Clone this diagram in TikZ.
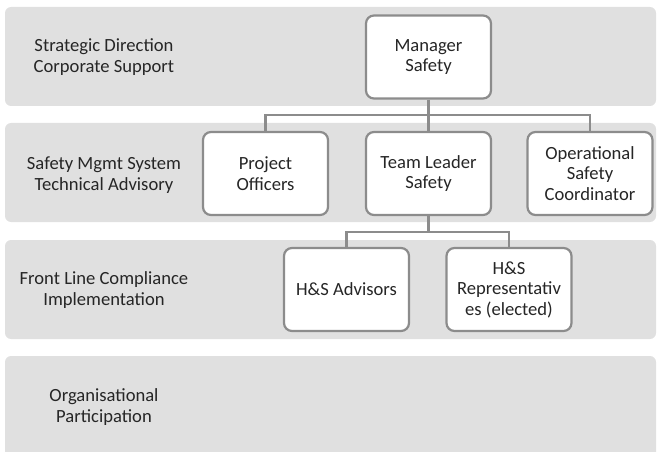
\documentclass[tikz,border=0pt]{standalone}
\usepackage{fontspec}
\setmainfont{Carlito}
\begin{document}
\begin{tikzpicture}[x=1pt,y=-1pt,
  band/.style={fill=bandgrey, draw=none, rounded corners=6pt},
  tier/.style={font=\fontsize{18.6}{20.5}\selectfont, align=center, text=black!85},
  rolebox/.style={draw=linegrey, line width=2.2pt, fill=white, rounded corners=8pt,
    minimum width=125pt, minimum height=83pt, align=center,
    font=\fontsize{18.6}{20.5}\selectfont, text=black!85, inner sep=1pt},
  link/.style={draw=linegrey, line width=2.4pt}]
\definecolor{bandgrey}{HTML}{E0E0E0}
\definecolor{linegrey}{HTML}{8C8C8C}
\useasboundingbox (0,0) rectangle (657,452);

% tier bands
\fill[band] (5,7) rectangle (656,106);
\fill[band] (5,123) rectangle (656,222);
\fill[band] (5,240) rectangle (656,339);
\fill[band] (5,356) rectangle (656,458);

% tier labels
\node[tier] (t1) at (104,57) {Strategic Direction\\Corporate Support};
\node[tier] (t2) at (104,175) {Safety Mgmt System\\Technical Advisory};
\node[tier] (t3) at (104,290) {Front Line Compliance\\Implementation};
\node[tier] (t4) at (104,407) {Organisational\\Participation};

% connector junctions
\coordinate (j1) at (428.5,115);
\coordinate (j2) at (428.5,232);

% box outlines used as anchors for the connectors
\node[rolebox, draw=none, fill=none] (mgr) at (428.5,57) {};
\node[rolebox, draw=none, fill=none] (po) at (265.5,173.5) {};
\node[rolebox, draw=none, fill=none] (tl) at (428.5,173.5) {};
\node[rolebox, draw=none, fill=none] (osc) at (590,173.5) {};
\node[rolebox, draw=none, fill=none] (hsa) at (346.5,289.5) {};
\node[rolebox, draw=none, fill=none] (hsr) at (509,289.5) {};

% connectors (drawn first, under the boxes)
\draw[link] (mgr.south) -- (j1);
\draw[link] (j1) -| (po.north);
\draw[link] (j1) -| (osc.north);
\draw[link] (j1) -- (tl.north);
\draw[link] (tl.south) -- (j2);
\draw[link] (j2) -| (hsa.north);
\draw[link] (j2) -| (hsr.north);

% role boxes
\node[rolebox] at (mgr) {Manager\\Safety};
\node[rolebox] at (po) {Project\\Officers};
\node[rolebox] at (tl) {Team Leader\\Safety};
\node[rolebox] at (osc) {Operational\\Safety\\Coordinator};
\node[rolebox] at (hsa) {H\&S Advisors};
\node[rolebox] at (hsr) {H\&S\\Representativ\\es (elected)};
\end{tikzpicture}
\end{document}
